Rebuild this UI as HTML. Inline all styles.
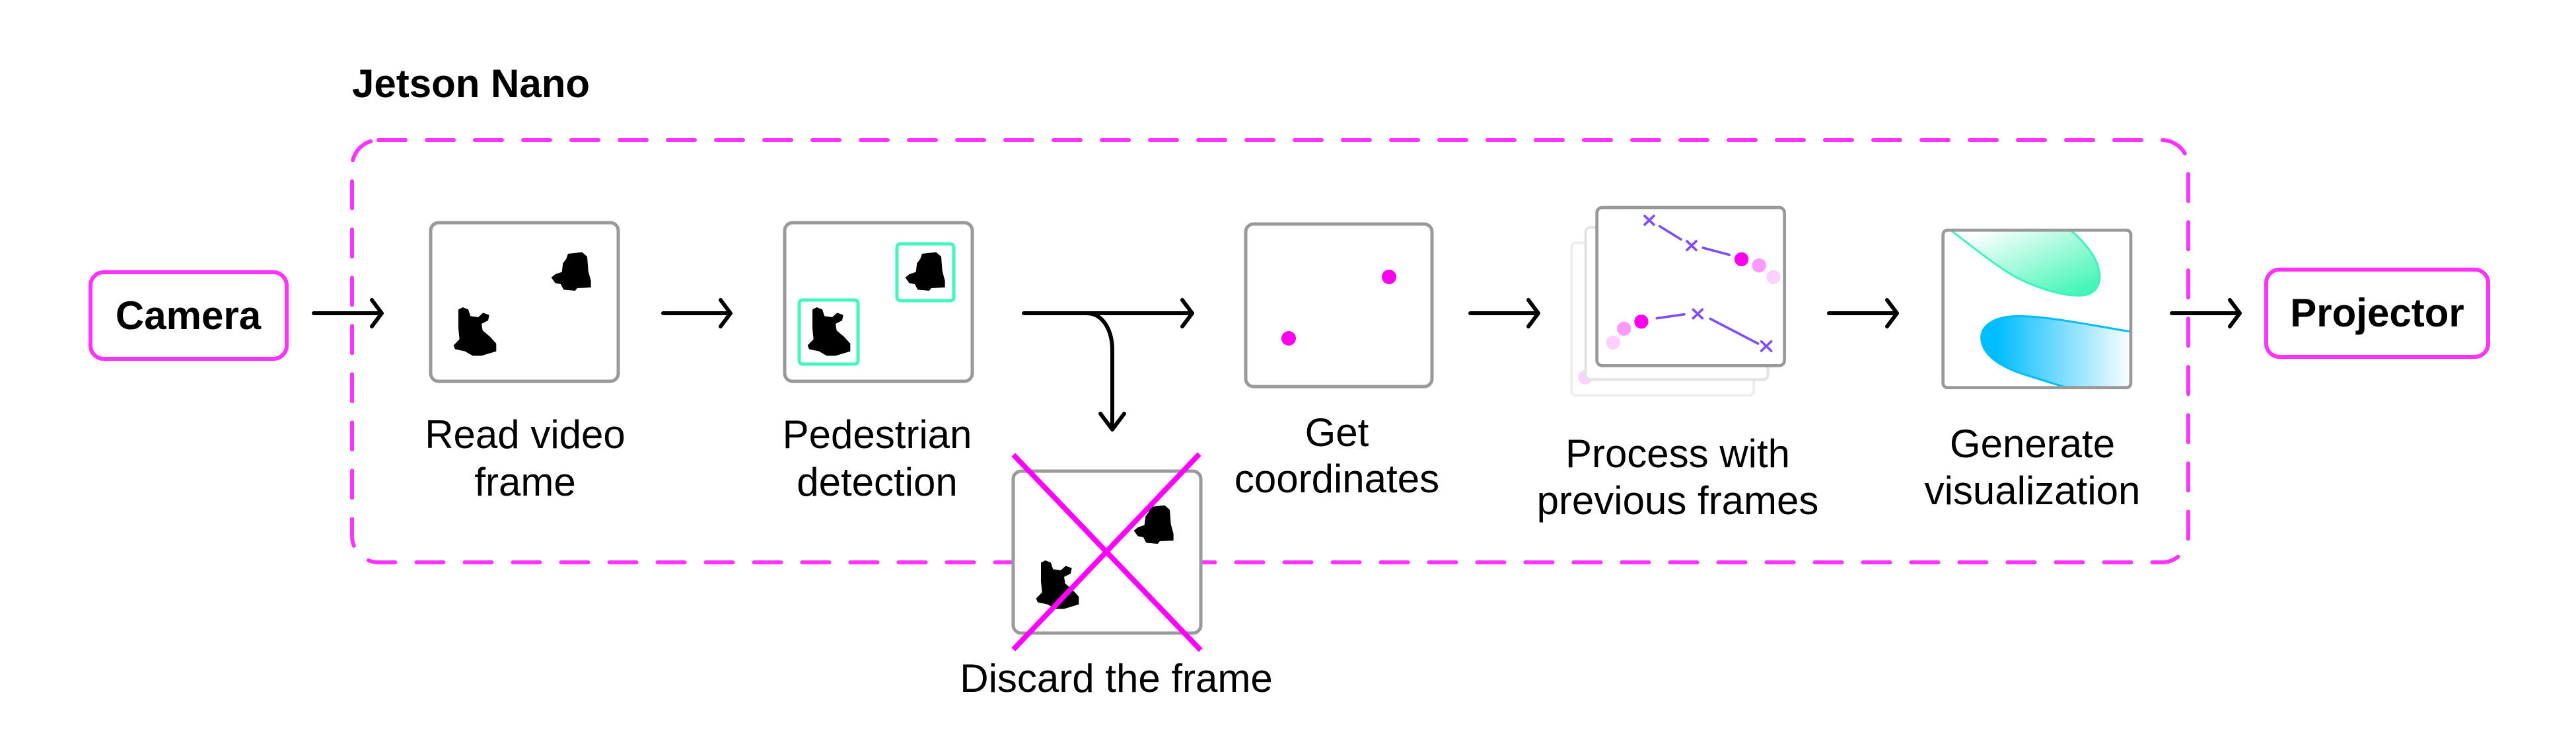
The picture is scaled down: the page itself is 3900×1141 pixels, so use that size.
<!DOCTYPE html>
<html><head><meta charset="utf-8"><style>html,body{margin:0;padding:0;background:#fff}svg{display:block}</style></head>
<body>
<svg width="3900" height="1141" viewBox="0 0 3900 1141" xmlns="http://www.w3.org/2000/svg" font-family="Liberation Sans, sans-serif">
<defs>
<linearGradient id="gg" x1="0" y1="0" x2="1" y2="1"><stop offset="0.1" stop-color="#fff"/><stop offset="1" stop-color="#2ff5b0"/></linearGradient>
<linearGradient id="bg" x1="0" y1="0" x2="1" y2="0"><stop offset="0.1" stop-color="#00bdff"/><stop offset="1" stop-color="#fff"/></linearGradient>
<clipPath id="vc"><rect x="35" y="40" width="853" height="715" rx="20"/></clipPath>
<g id="blobs">
<path d="M150,415 L170,405 L195,415 L205,445 L240,450 L262,430 L290,440 L285,465 L255,480 L260,510 L295,540 L322,570 L322,605 L255,625 L215,625 L180,605 L135,595 L128,578 L155,550 L150,500 Z" fill="#000"/>
<path d="M648,162 L712,155 L735,175 L740,240 L752,285 L752,315 L690,318 L680,330 L628,325 L615,300 L590,295 L572,270 L590,255 L620,245 L625,205 L640,185 Z" fill="#000"/>
</g>
</defs>

<!-- Jetson Nano container -->
<text x="533" y="147" font-size="60" font-weight="bold" fill="#000">Jetson Nano</text>
<rect x="533" y="212" width="2780" height="639" rx="40" fill="none" stroke="#ff33ff" stroke-width="6" stroke-dasharray="41 32" stroke-linecap="round"/>

<!-- Camera -->
<rect x="137" y="412" width="297" height="131" rx="20" fill="#fff" stroke="#ff33ff" stroke-width="6"/>
<text x="285" y="498" font-size="60" font-weight="bold" text-anchor="middle">Camera</text>

<!-- Projector -->
<rect x="3431" y="408" width="336" height="132" rx="20" fill="#fff" stroke="#ff33ff" stroke-width="6"/>
<text x="3599" y="494" font-size="60" font-weight="bold" text-anchor="middle">Projector</text>

<g stroke="#000" stroke-width="6" fill="none" stroke-linecap="round" stroke-linejoin="round">
<path d="M475,474 H578 M563,454 L578,474 L563,494"/>
<path d="M1004,474 H1106 M1091,454 L1106,474 L1091,494"/>
<path d="M1550,474 H1805 M1790,454 L1805,474 L1790,494"/>
<path d="M1645,474 C1670,474 1684,500 1684,530 V650 M1666,626 L1684,650 L1702,626"/>
<path d="M2226,474 H2329 M2314,454 L2329,474 L2314,494"/>
<path d="M2769,474 H2872 M2857,454 L2872,474 L2857,494"/>
<path d="M3288,474 H3391 M3376,454 L3391,474 L3376,494"/>
</g>

<!-- Frame 1 -->
<rect x="652" y="337" width="284" height="240" rx="12" fill="#fff" stroke="#999" stroke-width="5"/>
<g transform="translate(644,330) scale(0.3333)"><use href="#blobs"/></g>
<!-- Frame 2 -->
<rect x="1188" y="337" width="284" height="240" rx="12" fill="#fff" stroke="#999" stroke-width="5"/>
<rect x="1210" y="454" width="89" height="97" rx="5" fill="none" stroke="#44f5be" stroke-width="5"/>
<rect x="1358" y="369" width="86" height="86" rx="5" fill="none" stroke="#44f5be" stroke-width="5"/>
<g transform="translate(1180,330) scale(0.3333)"><use href="#blobs"/></g>

<!-- Discard frame -->
<rect x="1534" y="713" width="284" height="245" rx="12" fill="#fff" stroke="#999" stroke-width="5"/>
<g transform="translate(1526,713) scale(0.3333)"><use href="#blobs"/></g>
<g stroke="#ff00ff" stroke-width="8" stroke-linecap="square">
<line x1="1537" y1="691" x2="1815" y2="981"/>
<line x1="1813" y1="690" x2="1537" y2="980"/>
</g>

<!-- Frame 3 -->
<rect x="1886" y="339" width="282" height="246" rx="12" fill="#fff" stroke="#999" stroke-width="5"/>
<circle cx="2103" cy="419" r="11" fill="#ff00ee"/>
<circle cx="1951" cy="512" r="11" fill="#ff00ee"/>

<!-- Frame 4 stack -->
<g transform="translate(2370,305) scale(0.3333)">
<rect x="28" y="187" width="827" height="693" rx="20" fill="#fff" stroke="#eee" stroke-width="12"/>
<circle cx="90" cy="798" r="32" fill="#ffd0ff"/>
<rect x="92" y="117" width="828" height="691" rx="20" fill="#fff" stroke="#e2e2e2" stroke-width="12"/>
<rect x="143" y="27" width="852" height="718" rx="24" fill="#fff" stroke="#999" stroke-width="14"/>
<g stroke="#7f4dff" stroke-width="11" stroke-linecap="round" fill="none">
<path d="M360,65 L402,105 M402,65 L360,105"/>
<path d="M552,180 L594,220 M594,180 L552,220"/>
<path d="M580,490 L622,530 M622,490 L580,530"/>
<path d="M890,635 L935,678 M935,635 L890,678"/>
<path d="M428,112 L525,172 M625,210 L745,242 M415,530 L540,512 M658,532 L875,645"/>
</g>
<circle cx="800" cy="262" r="32" fill="#ff00ee"/>
<circle cx="880" cy="290" r="32" fill="#ff99ff"/>
<circle cx="945" cy="343" r="32" fill="#ffd0ff"/>
<circle cx="345" cy="545" r="32" fill="#ff00ee"/>
<circle cx="266" cy="577" r="32" fill="#ff99ff"/>
<circle cx="217" cy="640" r="32" fill="#ffd0ff"/>
</g>

<!-- Frame 5 -->
<g transform="translate(2930,335) scale(0.3333)">
<rect x="35" y="40" width="853" height="715" rx="20" fill="#fff"/>
<g clip-path="url(#vc)">
<path d="M70,40 C200,140 300,220 380,260 C480,310 600,345 680,335 C760,320 760,230 720,160 C690,110 650,70 615,40 Z" fill="url(#gg)" stroke="#40f0c0" stroke-width="9"/>
<path d="M885,500 C750,480 520,430 380,430 C260,430 200,480 210,540 C220,620 320,670 420,700 C500,725 560,745 600,755 L900,760 L900,500 Z" fill="url(#bg)" stroke="#00bbff" stroke-width="9"/>
</g>
<rect x="35" y="40" width="853" height="715" rx="20" fill="none" stroke="#999" stroke-width="14"/>
</g>

<!-- Labels -->
<g font-size="60" text-anchor="middle" fill="#000">
<text x="795" y="678">Read video</text><text x="795" y="750">frame</text>
<text x="1328" y="678">Pedestrian</text><text x="1328" y="750">detection</text>
<text x="2024" y="675">Get</text><text x="2024" y="745">coordinates</text>
<text x="2540" y="707">Process with</text><text x="2540" y="778">previous frames</text>
<text x="3077" y="692">Generate</text><text x="3077" y="763">visualization</text>
<text x="1690" y="1047">Discard the frame</text>
</g>
</svg>
</body></html>
